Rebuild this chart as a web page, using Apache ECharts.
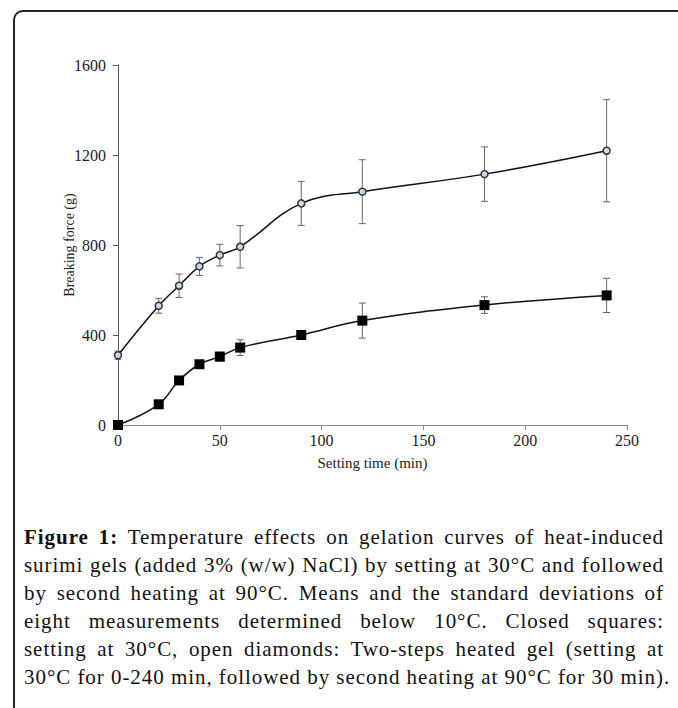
<!DOCTYPE html>
<html>
<head>
<meta charset="utf-8">
<script src="https://cdn.jsdelivr.net/npm/echarts@6/dist/echarts.min.js"></script>
<style>
  html, body { margin: 0; padding: 0; background: #fff; }
  #page { position: relative; width: 678px; height: 708px; overflow: hidden; }
  #frame {
    position: absolute; left: 13px; top: 10px; width: 700px; height: 720px;
    border-top: 2px solid #222; border-left: 2px solid #222;
    border-top-left-radius: 10px;
  }
  #chart { position: absolute; left: 0; top: 0; width: 678px; height: 500px; }
  #caption {
    position: absolute; left: 24px; top: 523px; width: 640px;
    font-family: "Liberation Serif", serif; font-size: 21px; line-height: 28px;
    letter-spacing: 0.95px; color: #111;
  }
  #caption div { text-align: justify; text-align-last: justify; white-space: nowrap; }
  #caption div.last { text-align-last: left; }
</style>
</head>
<body>
<div id="page">
  <div id="frame"></div>
  <div id="chart"></div>
  <div id="caption">
    <div><b>Figure 1:</b> Temperature effects on gelation curves of heat-induced</div>
    <div>surimi gels (added 3% (w/w) NaCl) by setting at 30°C and followed</div>
    <div>by second heating at 90°C. Means and the standard deviations of</div>
    <div>eight measurements determined below 10°C. Closed squares:</div>
    <div>setting at 30°C, open diamonds: Two-steps heated gel (setting at</div>
    <div class="last">30°C for 0-240 min, followed by second heating at 90°C for 30 min).</div>
  </div>
</div>
<script>
// setting time (min)
var times = [0, 20, 30, 40, 50, 60, 90, 120, 180, 240];
// two-step heated gel (open diamonds)
var twoStep = [310, 530, 619, 705, 755, 792, 985, 1037, 1115, 1219];
var twoStepSd = [18, 33, 52, 40, 48, 94, 98, 142, 121, 227];
// setting at 30°C only (closed squares)
var setting = [0, 92, 198, 270, 304, 344, 400, 464, 533, 576];
var settingSd = [0, 8, 10, 10, 20, 35, 18, 78, 37, 76];
var yTicks = [0, 400, 800, 1200, 1600];

var chart = echarts.init(document.getElementById("chart"), null, { renderer: "svg" });

function pairs(ys) {
  return times.map(function (t, i) { return [t, ys[i]]; });
}
function barData(ys, sd) {
  return times.map(function (t, i) { return [t, ys[i] - sd[i], ys[i] + sd[i]]; });
}
function renderBar(params, api) {
  var lo = api.coord([api.value(0), api.value(1)]);
  var hi = api.coord([api.value(0), api.value(2)]);
  var w = 3.5;
  var st = { stroke: "#666", lineWidth: 1 };
  return {
    type: "group",
    children: [
      { type: "line", shape: { x1: lo[0], y1: lo[1], x2: hi[0], y2: hi[1] }, style: st },
      { type: "line", shape: { x1: lo[0] - w, y1: lo[1], x2: lo[0] + w, y2: lo[1] }, style: st },
      { type: "line", shape: { x1: hi[0] - w, y1: hi[1], x2: hi[0] + w, y2: hi[1] }, style: st }
    ]
  };
}

var serif = "Liberation Serif";
chart.setOption({
  animation: false,
  grid: { left: 118, right: 51, top: 65, bottom: 75 },
  xAxis: {
    type: "value",
    min: 0,
    max: 250,
    interval: 50,
    name: "Setting time (min)",
    nameLocation: "middle",
    nameGap: 30,
    nameMoveOverlap: false,
    nameTextStyle: { fontFamily: serif, fontSize: 15, color: "#222" },
    axisLine: { lineStyle: { color: "#888" } },
    axisTick: { show: true, length: 5, lineStyle: { color: "#888" } },
    axisLabel: { fontFamily: serif, fontSize: 16, color: "#222", margin: 7 },
    splitLine: { show: false }
  },
  yAxis: {
    type: "value",
    min: yTicks[0],
    max: yTicks[yTicks.length - 1],
    interval: 400,
    name: "Breaking force (g)",
    nameLocation: "middle",
    nameGap: 42,
    nameMoveOverlap: false,
    nameTextStyle: { fontFamily: serif, fontSize: 14, color: "#222" },
    axisLine: { show: true, lineStyle: { color: "#555" } },
    axisTick: { show: true, length: 5, lineStyle: { color: "#555" } },
    axisLabel: {
      fontFamily: serif, fontSize: 16, color: "#222", margin: 12,
      formatter: function (v) { return String(v); }
    },
    splitLine: { show: false }
  },
  series: [
    {
      type: "custom",
      renderItem: renderBar,
      data: barData(twoStep, twoStepSd),
      encode: { x: 0, y: [1, 2] },
      z: 1
    },
    {
      type: "custom",
      renderItem: renderBar,
      data: barData(setting, settingSd),
      encode: { x: 0, y: [1, 2] },
      z: 1
    },
    {
      name: "Two-steps heated gel",
      type: "line",
      smooth: 0.4,
      data: pairs(twoStep),
      symbol: "circle",
      symbolSize: 7,
      lineStyle: { color: "#111", width: 1.5 },
      itemStyle: { color: "#c6d9f1", borderColor: "#333", borderWidth: 1.5 },
      z: 3
    },
    {
      name: "Setting at 30°C",
      type: "line",
      smooth: 0.4,
      data: pairs(setting),
      symbol: "rect",
      symbolSize: 10,
      lineStyle: { color: "#111", width: 1.5 },
      itemStyle: { color: "#000" },
      z: 3
    }
  ]
});
</script>
</body>
</html>
